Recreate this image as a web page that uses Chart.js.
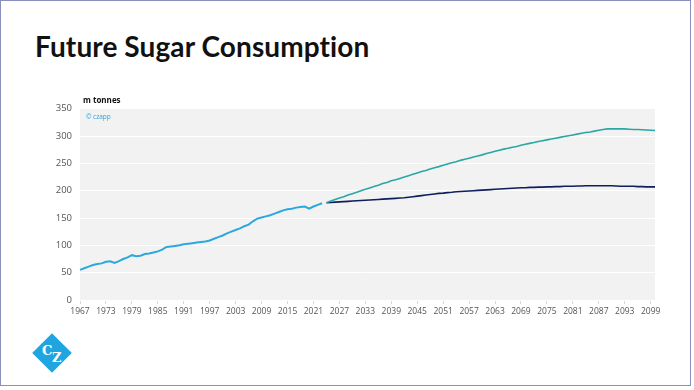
<!DOCTYPE html>
<html><head><meta charset="utf-8">
<script src="https://cdn.jsdelivr.net/npm/chart.js@4.4.0/dist/chart.umd.min.js"></script>
<style>
html,body{margin:0;padding:0;background:#fff;}
#page{position:relative;width:694px;height:390px;overflow:hidden;background:#fff;font-family:"Open Sans",sans-serif;}
#frame{position:absolute;left:0;top:0;width:691px;height:386px;border:1.5px solid #8a90bc;box-sizing:border-box;}
#title{position:absolute;left:35px;top:29px;font-family:Lato,sans-serif;font-weight:700;font-size:28px;color:#111;letter-spacing:0.1px;white-space:nowrap;}
#unit{position:absolute;left:83px;top:94px;font-weight:700;font-size:8px;color:#111;}
#copy{position:absolute;left:86px;top:112px;font-size:6.5px;color:#2ea3dc;}
#wrap{position:absolute;left:0;top:95px;width:694px;height:235px;}
#logo{position:absolute;left:38px;top:339px;width:28px;height:28px;background:#1fa6e0;transform:rotate(45deg);}
.lg{position:absolute;color:#fff;font-family:"DejaVu Serif",serif;font-weight:700;font-size:13px;}
</style></head>
<body><div id="page">
<div id="frame"></div>
<div id="title">Future Sugar Consumption</div>
<div id="wrap"><canvas id="c" width="694" height="235"></canvas></div>
<div id="unit">m tonnes</div>
<div id="copy">© czapp</div>
<div id="logo"></div>
<div class="lg" style="left:42px;top:343px;">C</div>
<div class="lg" style="left:52px;top:350px;">Z</div>
</div>
<script>
const firstYear = 1967, lastYear = 2100;
const years = [];
for (let y = firstYear; y <= lastYear; y++) years.push(String(y));

const historical = [55,58,61,64,66,67,70,71,68,71,75,78,82,80,81,84,85,87,89,92,97,98,99,100,102,103,104,105,106,107,109,112,115,118,122,125,128,131,135,138,144,149,151,153,155,158,161,164,166,167,169,170,171,167,171,174,177];
const histStart = 1967;

const forecastHigh = [178,181,184,186.5,189,192,194.5,197,200,202.5,205,207.5,210,213,215,218,220,222.5,225,227.5,230,232.5,235,237,239.5,242,244,246.5,249,251,253,255.5,257.5,259.5,261.5,263.5,265.5,268,270,272,274,276,277.5,279.5,281,283,285,286.5,288,290,291.5,293,294.5,296,297.5,299,300.5,302,303.5,305,306.5,307.5,309,310.5,312,313,313,313,313,313,312.5,312,312,311.5,311,310.5,310];
const forecastLow = [178,178.5,179,179.5,180,180.5,181,181.5,182,182.5,183,183.5,184,184.5,185,185.5,186,186.5,187,188,189,190,191,192,193,194,195,195.5,196.5,197,198,198.5,199,199.5,200,200.5,201,201.5,202,202.5,203,203.5,204,204.5,205,205.5,205.5,206,206,206.5,206.5,207,207,207.5,207.5,208,208,208,208.5,208.5,209,209,209,209,209,209,209,208.5,208,208,208,208,207.5,207.5,207,207,207];
const forecastStart = 2024;

const yTicks = [0,50,100,150,200,250,300,350];

function place(arr, start) {
  return years.map(y => {
    const i = Number(y) - start;
    return (i >= 0 && i < arr.length) ? arr[i] : null;
  });
}

const bgPlugin = {
  id: 'bg',
  beforeDraw(chart) {
    const {ctx, chartArea: a} = chart;
    ctx.save();
    ctx.fillStyle = '#f2f2f2';
    ctx.fillRect(a.left, a.top, a.right - a.left, a.bottom - a.top);
    ctx.restore();
  }
};

new Chart(document.getElementById('c'), {
  type: 'line',
  data: {
    labels: years,
    datasets: [
      {data: place(historical, histStart), borderColor: '#2aa8df', borderWidth: 2, pointRadius: 0, tension: 0, spanGaps: false},
      {data: place(forecastHigh, forecastStart), borderColor: '#2aa6a4', borderWidth: 1.6, pointRadius: 0, tension: 0},
      {data: place(forecastLow, forecastStart), borderColor: '#0e1f5b', borderWidth: 1.6, pointRadius: 0, tension: 0}
    ]
  },
  options: {
    responsive: false,
    animation: false,
    devicePixelRatio: 1,
    layout: {padding: {top: 12, right: 39, left: 0, bottom: 0}},
    plugins: {legend: {display: false}, tooltip: {enabled: false}},
    scales: {
      x: {
        offset: false,
        grid: {drawOnChartArea: false, drawTicks: true, tickLength: 4, color: '#d8d8d8'},
        border: {display: false},
        ticks: {
          autoSkip: false, maxRotation: 0, minRotation: 0, padding: 2,
          color: '#555', font: {family: 'Open Sans', size: 8.5},
          callback: function(v, i) { const y = Number(years[i]); return ((y - firstYear) % 6 === 0) ? String(y) : null; }
        },
        afterFit(s) { s.height = 30; }
      },
      y: {
        min: 0, max: 350,
        afterBuildTicks(s) { s.ticks = yTicks.map(v => ({value: v})); },
        grid: {color: '#ffffff', lineWidth: 1, drawTicks: false},
        border: {display: false},
        ticks: {color: '#555', font: {family: 'Open Sans', size: 9.5}, padding: 8},
        afterFit(s) { s.width = 80; }
      }
    }
  },
  plugins: [bgPlugin]
});
</script>
</body></html>
